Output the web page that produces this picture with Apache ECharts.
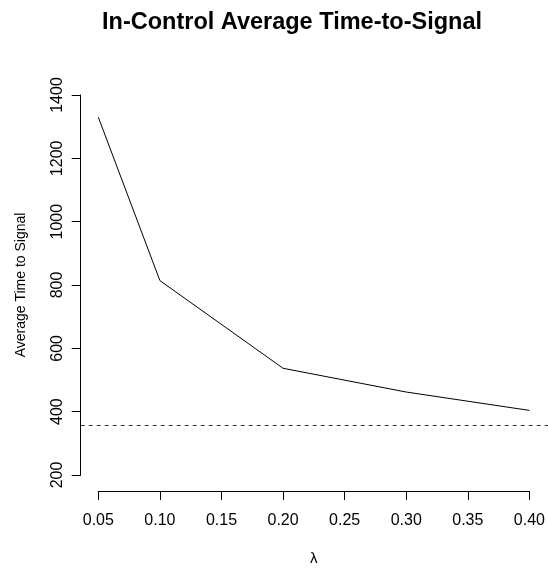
<!DOCTYPE html>
<html>
<head>
<meta charset="utf-8">
<script src="https://cdn.jsdelivr.net/npm/echarts@6/dist/echarts.min.js"></script>
<style>
html, body { margin: 0; padding: 0; background: #fff; }
#chart { width: 548px; height: 571px; }
</style>
</head>
<body>
<div id="chart"></div>
<script>
// Smoothing parameter values and the in-control ATS for each
const lambdas = [0.05, 0.10, 0.20, 0.30, 0.40];
const ats = [1330, 814, 537, 462, 404];
// Reference level drawn as a dashed horizontal line
const referenceAts = 369;
// Axis tick ranges
const xTicks = { min: 0.05, max: 0.40, step: 0.05 };
const yTicks = { min: 200, max: 1400, step: 200 };

// Plot region is padded by 4% of each range on every side
const xPad = (xTicks.max - xTicks.min) * 0.04;
const yPad = (yTicks.max - yTicks.min) * 0.04;

const FONT = 'Liberation Sans, Arial, Helvetica, sans-serif';

const chart = echarts.init(document.getElementById('chart'), null, { renderer: 'canvas' });

chart.setOption({
  animation: false,
  backgroundColor: '#ffffff',
  title: {
    text: 'In-Control Average Time-to-Signal',
    left: 287,
    top: 6,
    textAlign: 'center',
    textStyle: { fontFamily: FONT, fontSize: 23.5, fontWeight: 'bold', color: '#000' }
  },
  grid: [
    // full plot region
    { left: 80.7, width: 468.3, top: 79.6, bottom: 76.7 },
    // tick span used for the visible axes
    { left: 98.3, right: 16.3, top: 95, bottom: 92.7 }
  ],
  xAxis: [
    {
      gridIndex: 0, type: 'value', show: false,
      min: xTicks.min - xPad, max: xTicks.max + xPad
    },
    {
      gridIndex: 1, type: 'value', position: 'bottom', offset: 16,
      min: xTicks.min, max: xTicks.max, interval: xTicks.step,
      name: 'λ', nameLocation: 'middle', nameGap: 60,
      nameTextStyle: { fontFamily: FONT, fontSize: 15, color: '#000' },
      axisLine: { show: true, onZero: false, lineStyle: { color: '#000', width: 1 } },
      axisTick: { show: true, length: 9, lineStyle: { color: '#000', width: 1 } },
      axisLabel: {
        fontFamily: FONT, fontSize: 16, color: '#000', margin: 22,
        formatter: v => v.toFixed(2)
      },
      splitLine: { show: false }
    }
  ],
  yAxis: [
    {
      gridIndex: 0, type: 'value', show: false,
      min: yTicks.min - yPad, max: yTicks.max + yPad
    },
    {
      gridIndex: 1, type: 'value', position: 'left', offset: 17.6,
      min: yTicks.min, max: yTicks.max, interval: yTicks.step,
      name: 'Average Time to Signal', nameLocation: 'middle', nameGap: 53,
      nameTextStyle: { fontFamily: FONT, fontSize: 14, color: '#000' },
      axisLine: { show: true, onZero: false, lineStyle: { color: '#000', width: 1 } },
      axisTick: { show: true, length: 9, lineStyle: { color: '#000', width: 1 } },
      axisLabel: {
        fontFamily: FONT, fontSize: 16, color: '#000', margin: 15,
        rotate: 90, align: 'center', verticalAlign: 'bottom',
        formatter: v => String(v)
      },
      splitLine: { show: false }
    }
  ],
  series: [
    {
      type: 'line',
      xAxisIndex: 1, yAxisIndex: 1,
      data: lambdas.map((x, i) => [x, ats[i]]),
      symbol: 'none',
      lineStyle: { color: '#000', width: 1 },
      silent: true
    },
    {
      type: 'line',
      xAxisIndex: 0, yAxisIndex: 0,
      data: [],
      symbol: 'none',
      markLine: {
        silent: true,
        symbol: 'none',
        label: { show: false },
        lineStyle: { color: '#333', width: 1, type: [4, 4] },
        data: [{ yAxis: referenceAts }]
      }
    }
  ]
});
</script>
</body>
</html>
